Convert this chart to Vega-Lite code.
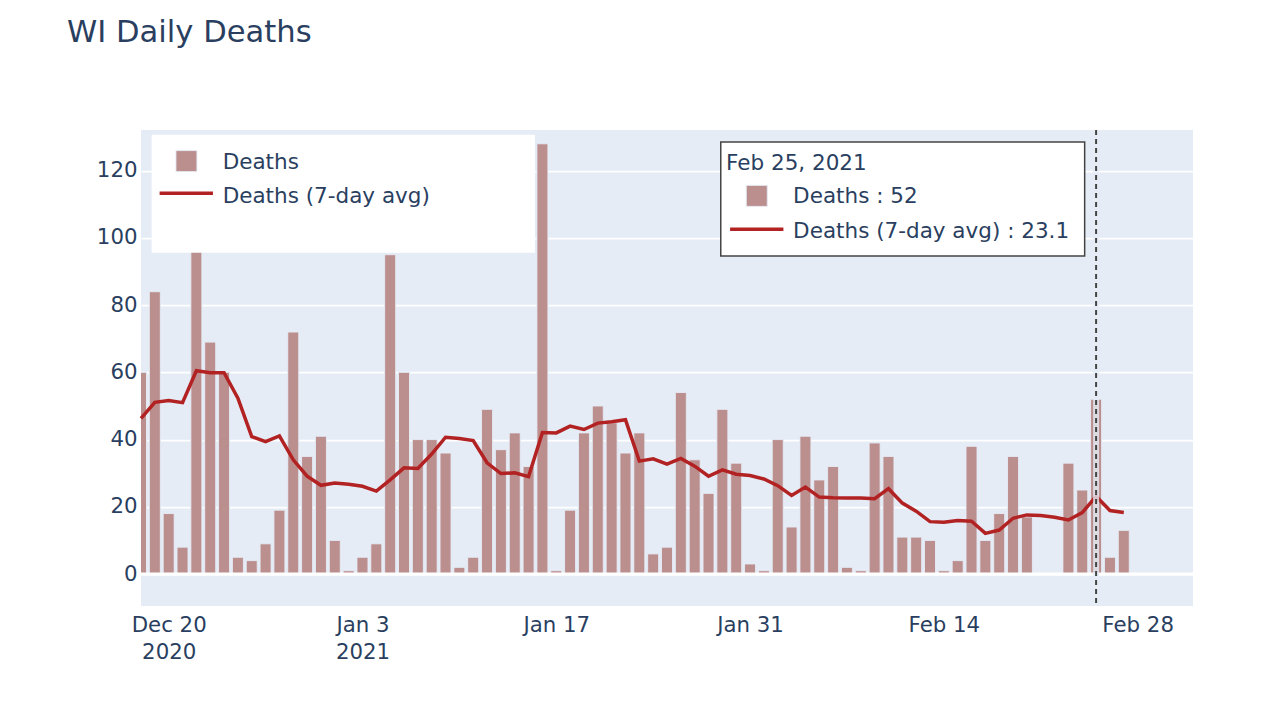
{
  "$schema": "https://vega.github.io/schema/vega-lite/v6.json",
  "width": 1052,
  "height": 476,
  "autosize": "none",
  "padding": {"left": 141, "top": 130, "right": 68, "bottom": 97},
  "background": "white",
  "title": {"text": "WI Daily Deaths", "anchor": "start", "frame": "group", "dx": -74, "offset": 54, "baseline": "alphabetic", "fontSize": 30.6, "font": "DejaVu Sans", "fontWeight": "normal", "color": "#2a3f5f"},
  "config": {
    "view": {"fill": "#E5ECF6", "stroke": null},
    "font": "DejaVu Sans",
    "text": {"font": "DejaVu Sans", "fontSize": 21.5, "color": "#2a3f5f"}
  },
  "datasets": {
    "covid": [
      {"date": "2020-12-18", "deaths": 60, "avg": 46.3},
      {"date": "2020-12-19", "deaths": 84, "avg": 51.1},
      {"date": "2020-12-20", "deaths": 18, "avg": 51.6},
      {"date": "2020-12-21", "deaths": 8, "avg": 51.0},
      {"date": "2020-12-22", "deaths": 121, "avg": 60.5},
      {"date": "2020-12-23", "deaths": 69, "avg": 59.9},
      {"date": "2020-12-24", "deaths": 60, "avg": 59.9},
      {"date": "2020-12-25", "deaths": 5, "avg": 52.3},
      {"date": "2020-12-26", "deaths": 4, "avg": 40.9},
      {"date": "2020-12-27", "deaths": 9, "avg": 39.4},
      {"date": "2020-12-28", "deaths": 19, "avg": 41.1},
      {"date": "2020-12-29", "deaths": 72, "avg": 34.0},
      {"date": "2020-12-30", "deaths": 35, "avg": 29.1},
      {"date": "2020-12-31", "deaths": 41, "avg": 26.4},
      {"date": "2021-01-01", "deaths": 10, "avg": 27.1},
      {"date": "2021-01-02", "deaths": 1, "avg": 26.7},
      {"date": "2021-01-03", "deaths": 5, "avg": 26.1},
      {"date": "2021-01-04", "deaths": 9, "avg": 24.7},
      {"date": "2021-01-05", "deaths": 95, "avg": 28.0},
      {"date": "2021-01-06", "deaths": 60, "avg": 31.6},
      {"date": "2021-01-07", "deaths": 40, "avg": 31.4},
      {"date": "2021-01-08", "deaths": 40, "avg": 35.7},
      {"date": "2021-01-09", "deaths": 36, "avg": 40.7},
      {"date": "2021-01-10", "deaths": 2, "avg": 40.3},
      {"date": "2021-01-11", "deaths": 5, "avg": 39.7},
      {"date": "2021-01-12", "deaths": 49, "avg": 33.1},
      {"date": "2021-01-13", "deaths": 37, "avg": 29.9},
      {"date": "2021-01-14", "deaths": 42, "avg": 30.1},
      {"date": "2021-01-15", "deaths": 32, "avg": 29.0},
      {"date": "2021-01-16", "deaths": 128, "avg": 42.1},
      {"date": "2021-01-17", "deaths": 1, "avg": 42.0},
      {"date": "2021-01-18", "deaths": 19, "avg": 44.0},
      {"date": "2021-01-19", "deaths": 42, "avg": 43.0},
      {"date": "2021-01-20", "deaths": 50, "avg": 44.9},
      {"date": "2021-01-21", "deaths": 45, "avg": 45.3},
      {"date": "2021-01-22", "deaths": 36, "avg": 45.9},
      {"date": "2021-01-23", "deaths": 42, "avg": 33.6},
      {"date": "2021-01-24", "deaths": 6, "avg": 34.3},
      {"date": "2021-01-25", "deaths": 8, "avg": 32.7},
      {"date": "2021-01-26", "deaths": 54, "avg": 34.4},
      {"date": "2021-01-27", "deaths": 34, "avg": 32.1},
      {"date": "2021-01-28", "deaths": 24, "avg": 29.1},
      {"date": "2021-01-29", "deaths": 49, "avg": 31.0},
      {"date": "2021-01-30", "deaths": 33, "avg": 29.7},
      {"date": "2021-01-31", "deaths": 3, "avg": 29.3},
      {"date": "2021-02-01", "deaths": 1, "avg": 28.3},
      {"date": "2021-02-02", "deaths": 40, "avg": 26.3},
      {"date": "2021-02-03", "deaths": 14, "avg": 23.4},
      {"date": "2021-02-04", "deaths": 41, "avg": 25.9},
      {"date": "2021-02-05", "deaths": 28, "avg": 22.9},
      {"date": "2021-02-06", "deaths": 32, "avg": 22.7},
      {"date": "2021-02-07", "deaths": 2, "avg": 22.6},
      {"date": "2021-02-08", "deaths": 1, "avg": 22.6},
      {"date": "2021-02-09", "deaths": 39, "avg": 22.4},
      {"date": "2021-02-10", "deaths": 35, "avg": 25.4},
      {"date": "2021-02-11", "deaths": 11, "avg": 21.1},
      {"date": "2021-02-12", "deaths": 11, "avg": 18.7},
      {"date": "2021-02-13", "deaths": 10, "avg": 15.6},
      {"date": "2021-02-14", "deaths": 1, "avg": 15.4},
      {"date": "2021-02-15", "deaths": 4, "avg": 15.9},
      {"date": "2021-02-16", "deaths": 38, "avg": 15.7},
      {"date": "2021-02-17", "deaths": 10, "avg": 12.1},
      {"date": "2021-02-18", "deaths": 18, "avg": 13.1},
      {"date": "2021-02-19", "deaths": 35, "avg": 16.6},
      {"date": "2021-02-20", "deaths": 17, "avg": 17.6},
      {"date": "2021-02-21", "deaths": 0, "avg": 17.4},
      {"date": "2021-02-22", "deaths": 0, "avg": 16.9},
      {"date": "2021-02-23", "deaths": 33, "avg": 16.1},
      {"date": "2021-02-24", "deaths": 25, "avg": 18.3},
      {"date": "2021-02-25", "deaths": 52, "avg": 23.1},
      {"date": "2021-02-26", "deaths": 5, "avg": 18.9},
      {"date": "2021-02-27", "deaths": 13, "avg": 18.3}
    ],
    "one": [{"k": 1}]
  },
  "layer": [
    {
      "data": {"name": "covid"},
      "mark": {"type": "bar", "size": 11, "color": "#BC8F8F", "stroke": "#E5ECF6", "strokeWidth": 0.9, "clip": true},
      "encoding": {
        "x": {
          "field": "date", "type": "temporal",
          "scale": {"type": "utc", "domain": [{"year": 2020, "month": 12, "date": 18, "utc": true}, {"year": 2021, "month": 3, "date": 4, "utc": true}], "nice": false, "padding": 0},
          "axis": {
            "title": null, "grid": false, "domain": false, "ticks": false, "tickSize": 0,
            "labelPadding": 8, "labelFontSize": 21.3, "labelColor": "#2a3f5f", "labelFont": "DejaVu Sans",
            "labelLineHeight": 27, "labelFlush": false, "labelOverlap": false,
            "values": [
              {"year": 2020, "month": 12, "date": 20, "utc": true},
              {"year": 2021, "month": 1, "date": 3, "utc": true},
              {"year": 2021, "month": 1, "date": 17, "utc": true},
              {"year": 2021, "month": 1, "date": 31, "utc": true},
              {"year": 2021, "month": 2, "date": 14, "utc": true},
              {"year": 2021, "month": 2, "date": 28, "utc": true}
            ],
            "labelExpr": "(utcmonth(datum.value) == 11 && utcdate(datum.value) == 20) ? ['Dec 20', '2020'] : ((utcmonth(datum.value) == 0 && utcdate(datum.value) == 3) ? ['Jan 3', '2021'] : utcFormat(datum.value, '%b %-d'))"
          }
        },
        "y": {
          "field": "deaths", "type": "quantitative",
          "scale": {"domain": [-9.5, 132.1], "nice": false, "zero": false, "padding": 0},
          "axis": {
            "title": null, "domain": false, "ticks": false, "tickSize": 0,
            "values": [0, 20, 40, 60, 80, 100, 120],
            "grid": true, "gridColor": "white", "gridWidth": 1.75,
            "labelPadding": 4, "labelFontSize": 21.3, "labelColor": "#2a3f5f", "labelFont": "DejaVu Sans"
          }
        },
        "y2": {"datum": 0}
      }
    },
    {
      "data": {"name": "one"},
      "mark": {"type": "rule", "color": "white", "strokeWidth": 3},
      "encoding": {"y": {"datum": 0, "type": "quantitative"}}
    },
    {
      "data": {"name": "covid"},
      "mark": {"type": "line", "color": "#B22222", "strokeWidth": 3.5},
      "encoding": {
        "x": {"field": "date", "type": "temporal"},
        "y": {"field": "avg", "type": "quantitative"}
      }
    },
    {
      "data": {"name": "one"},
      "mark": {"type": "rule", "color": "#E5ECF6", "strokeWidth": 6, "opacity": 0.8},
      "encoding": {"x": {"datum": {"year": 2021, "month": 2, "date": 25, "utc": true}, "type": "temporal"}}
    },
    {
      "data": {"name": "one"},
      "mark": {"type": "rule", "color": "#444444", "strokeWidth": 2, "strokeDash": [5, 4]},
      "encoding": {"x": {"datum": {"year": 2021, "month": 2, "date": 25, "utc": true}, "type": "temporal"}}
    },
    {
      "data": {"name": "one"},
      "mark": {"type": "rect", "color": "white"},
      "encoding": {
        "x": {"datum": {"year": 2020, "month": 12, "date": 18, "hours": 18, "minutes": 23, "utc": true}, "type": "temporal"},
        "x2": {"datum": {"year": 2021, "month": 1, "date": 15, "hours": 11, "minutes": 0, "utc": true}},
        "y": {"datum": 130.65, "type": "quantitative"},
        "y2": {"datum": 95.6}
      }
    },
    {
      "data": {"name": "one"},
      "mark": {"type": "point", "shape": "square", "filled": true, "size": 441, "color": "#BC8F8F", "stroke": "#E5ECF6", "strokeWidth": 0.9, "opacity": 1},
      "encoding": {
        "x": {"datum": {"year": 2020, "month": 12, "date": 21, "hours": 6, "minutes": 47, "utc": true}, "type": "temporal"},
        "y": {"datum": 122.85, "type": "quantitative"}
      }
    },
    {
      "data": {"name": "one"},
      "mark": {"type": "rule", "color": "#B22222", "strokeWidth": 3.5},
      "encoding": {
        "x": {"datum": {"year": 2020, "month": 12, "date": 19, "hours": 8, "minutes": 17, "utc": true}, "type": "temporal"},
        "x2": {"datum": {"year": 2020, "month": 12, "date": 23, "hours": 4, "minutes": 45, "utc": true}},
        "y": {"datum": 113.3, "type": "quantitative"}
      }
    },
    {
      "data": {"name": "one"},
      "mark": {"type": "text", "align": "left", "baseline": "middle", "text": "Deaths", "fontSize": 21.5, "color": "#2a3f5f"},
      "encoding": {
        "x": {"datum": {"year": 2020, "month": 12, "date": 23, "hours": 21, "minutes": 35, "utc": true}, "type": "temporal"},
        "y": {"datum": 122.25, "type": "quantitative"}
      }
    },
    {
      "data": {"name": "one"},
      "mark": {"type": "text", "align": "left", "baseline": "middle", "text": "Deaths (7-day avg)", "fontSize": 21.5, "color": "#2a3f5f"},
      "encoding": {
        "x": {"datum": {"year": 2020, "month": 12, "date": 23, "hours": 21, "minutes": 35, "utc": true}, "type": "temporal"},
        "y": {"datum": 112.3, "type": "quantitative"}
      }
    },
    {
      "data": {"name": "one"},
      "mark": {"type": "rect", "color": "white", "stroke": "#444444", "strokeWidth": 1.5},
      "encoding": {
        "x": {"datum": {"year": 2021, "month": 1, "date": 28, "hours": 21, "minutes": 13, "utc": true}, "type": "temporal"},
        "x2": {"datum": {"year": 2021, "month": 2, "date": 24, "hours": 4, "minutes": 9, "utc": true}},
        "y": {"datum": 128.5, "type": "quantitative"},
        "y2": {"datum": 94.64}
      }
    },
    {
      "data": {"name": "one"},
      "mark": {"type": "text", "align": "left", "baseline": "middle", "text": "Feb 25, 2021", "fontSize": 21.5, "color": "#2a3f5f"},
      "encoding": {
        "x": {"datum": {"year": 2021, "month": 1, "date": 29, "hours": 6, "minutes": 24, "utc": true}, "type": "temporal"},
        "y": {"datum": 122.1, "type": "quantitative"}
      }
    },
    {
      "data": {"name": "one"},
      "mark": {"type": "point", "shape": "square", "filled": true, "size": 441, "color": "#BC8F8F", "stroke": "#E5ECF6", "strokeWidth": 0.9, "opacity": 1},
      "encoding": {
        "x": {"datum": {"year": 2021, "month": 1, "date": 31, "hours": 11, "minutes": 41, "utc": true}, "type": "temporal"},
        "y": {"datum": 112.5, "type": "quantitative"}
      }
    },
    {
      "data": {"name": "one"},
      "mark": {"type": "rule", "color": "#B22222", "strokeWidth": 3.5},
      "encoding": {
        "x": {"datum": {"year": 2021, "month": 1, "date": 29, "hours": 13, "minutes": 22, "utc": true}, "type": "temporal"},
        "x2": {"datum": {"year": 2021, "month": 2, "date": 2, "hours": 9, "minutes": 50, "utc": true}},
        "y": {"datum": 102.6, "type": "quantitative"}
      }
    },
    {
      "data": {"name": "one"},
      "mark": {"type": "text", "align": "left", "baseline": "middle", "text": "Deaths : 52", "fontSize": 21.5, "color": "#2a3f5f"},
      "encoding": {
        "x": {"datum": {"year": 2021, "month": 2, "date": 3, "hours": 2, "minutes": 40, "utc": true}, "type": "temporal"},
        "y": {"datum": 112.2, "type": "quantitative"}
      }
    },
    {
      "data": {"name": "one"},
      "mark": {"type": "text", "align": "left", "baseline": "middle", "text": "Deaths (7-day avg) : 23.1", "fontSize": 21.5, "color": "#2a3f5f"},
      "encoding": {
        "x": {"datum": {"year": 2021, "month": 2, "date": 3, "hours": 2, "minutes": 40, "utc": true}, "type": "temporal"},
        "y": {"datum": 101.8, "type": "quantitative"}
      }
    }
  ]
}
